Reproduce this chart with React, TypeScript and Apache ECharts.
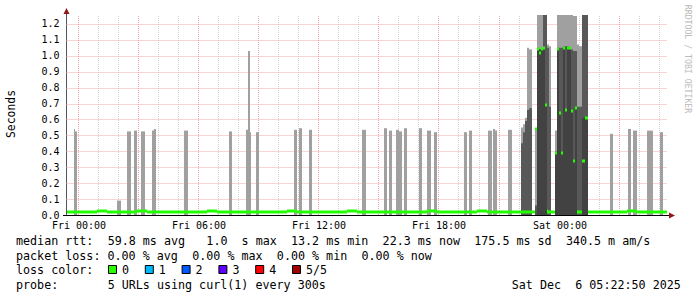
import React, { useEffect, useRef } from "react";
import * as echarts from "echarts";

// ---------- axis ranges (hours relative to Fri 00:00, seconds) ----------
const X_MIN = -0.583;
const X_MAX = 29.417;
const Y_MAX = 1.256;

// ---------- tick / grid values ----------
const xLabelHours = [0, 6, 12, 18, 24];
const xLabelTexts = ["Fri 00:00", "Fri 06:00", "Fri 12:00", "Fri 18:00", "Sat 00:00"];
const majorGridHours = [0, 3, 6, 9, 12, 15, 18, 21, 24, 27];
const minorGridHours = [1, 2, 4, 5, 7, 8, 10, 11, 13, 14, 16, 17, 19, 20, 22, 23, 25, 26, 28, 29];
const yGridValues = [0.1, 0.2, 0.3, 0.4, 0.5, 0.6, 0.7, 0.8, 0.9, 1.0, 1.1, 1.2];

// ---------- isolated smoke spikes: [start h, end h, max rtt s] ----------
const spikes: number[][] = [
  [-0.23, -0.15, 0.54], [-0.15, -0.08, 0.525],
  [1.95, 2.15, 0.09],
  [2.45, 2.65, 0.525], [2.8, 2.95, 0.53], [3.15, 3.32, 0.525],
  [3.7, 3.8, 0.53], [3.8, 3.9, 0.54], [5.3, 5.47, 0.53],
  [7.55, 7.7, 0.525],
  [8.4, 8.47, 0.535], [8.47, 8.57, 1.03], [8.57, 8.65, 0.52],
  [8.9, 9.05, 0.52],
  [10.8, 10.95, 0.535], [11.03, 11.18, 0.545], [11.55, 11.7, 0.535],
  [14.2, 14.4, 0.535], [15.3, 15.45, 0.545], [15.55, 15.7, 0.53],
  [15.9, 16.05, 0.535], [16.05, 16.2, 0.525], [16.3, 16.45, 0.545],
  [17.05, 17.2, 0.545], [17.45, 17.65, 0.53], [17.8, 17.95, 0.52],
  [19.3, 19.45, 0.52], [19.55, 19.7, 0.53],
  [20.45, 20.65, 0.53], [20.7, 20.8, 0.54], [20.8, 20.9, 0.53],
  [21.45, 21.65, 0.535],
  [26.55, 26.7, 0.51], [27.45, 27.6, 0.54], [27.7, 27.9, 0.53],
  [28.4, 28.7, 0.53], [29.05, 29.2, 0.52],
];

// ---------- busy period: [start h, end h, outer max, inner max, core max, median (null = baseline)] ----------
const busySlots: (number | null)[][] = [
  [22.1, 22.2, 0.55, 0.45, 0, null],
  [22.2, 22.3, 0.57, 0.52, 0, null],
  [22.3, 22.4, 0.61, 0.59, 0, null],
  [22.4, 22.5, 1.05, 0.66, 0, null],
  [22.5, 22.65, 1.04, 0.67, 0, null],
  [22.83, 22.9, 0.54, 0.06, 0, 0.54],
  [22.9, 23.0, 1.26, 1.04, 1.04, 1.04],
  [23.0, 23.1, 1.26, 1.04, 1.04, 1.02],
  [23.1, 23.2, 1.26, 1.04, 1.04, 1.04],
  [23.2, 23.3, 1.26, 1.26, 1.04, 1.05],
  [23.3, 23.4, 1.26, 1.26, 0.69, 0.69],
  [23.4, 23.5, 1.07, 1.05, 0, null],
  [23.5, 23.6, 1.06, 0.68, 0, null],
  [23.8, 23.9, 0.53, 0.4, 0.39, 0.39],
  [23.9, 24.0, 1.26, 1.05, 1.04, 1.04],
  [24.0, 24.1, 1.26, 1.05, 0.64, 0.64],
  [24.1, 24.2, 1.26, 1.05, 0.39, 0.39],
  [24.2, 24.3, 1.26, 1.06, 1.05, 1.05],
  [24.3, 24.4, 1.26, 1.06, 0.66, 0.66],
  [24.4, 24.5, 1.26, 1.06, 1.05, 1.05],
  [24.5, 24.6, 1.26, 1.05, 1.05, 1.05],
  [24.6, 24.7, 1.26, 1.04, 0.65, 0.65],
  [24.7, 24.8, 1.25, 1.03, 0.34, 0.34],
  [24.8, 24.9, 1.25, 1.03, 0.67, 0.67],
  [24.9, 25.0, 1.07, 0.68, 0, null],
  [25.0, 25.15, 1.06, 0.68, 0, null],
  [25.15, 25.3, 1.26, 1.26, 0.61, 0.34],
  [25.3, 25.45, 1.26, 1.26, 0.61, 0.61],
];

// ---------- baseline median rtt, every 30 min from the start ----------
const medianStartHour = -0.583;
const medianStepHours = 0.5;
const medianValues = [
  0.021, 0.019, 0.018, 0.022, 0.020, 0.017, 0.019, 0.022, 0.020, 0.018,
  0.021, 0.019, 0.017, 0.020, 0.022, 0.019, 0.018, 0.021, 0.020, 0.017,
  0.019, 0.021, 0.023, 0.020, 0.018, 0.019, 0.021, 0.020, 0.022, 0.019,
  0.018, 0.020, 0.021, 0.019, 0.017, 0.020, 0.022, 0.021, 0.019, 0.018,
  0.020, 0.023, 0.021, 0.019, 0.020, 0.018, 0.021, 0.022, 0.020, 0.019,
  0.017, 0.020, 0.021, 0.019, 0.018, 0.020, 0.022, 0.019, 0.021, 0.020,
];

// ---------- legend texts ----------
const legendRtt = "median rtt:  59.8 ms avg   1.0  s max  13.2 ms min  22.3 ms now  175.5 ms sd  340.5 m am/s";
const legendLoss = "packet loss: 0.00 % avg  0.00 % max  0.00 % min  0.00 % now";
const legendColorTitle = "loss color:";
const lossLabels = ["0", "1", "2", "3", "4", "5/5"];
const lossColors = ["#26ff00", "#00b8ff", "#0059ff", "#5e00ff", "#ff0000", "#a10000"];
const legendProbe = "probe:       5 URLs using curl(1) every 300s";
const legendDate = "Sat Dec  6 05:22:50 2025";

const MONO = '"DejaVu Sans Mono", monospace';
const CW = 7.05; // char advance of legend font
const LEGEND_FONT = `11.7px ${MONO}`;

function rowTexts(str: string, x0: number, y: number): any[] {
  const out: any[] = [];
  const re = /\S+(?: \S+)*/g;
  let m: RegExpExecArray | null;
  while ((m = re.exec(str))) {
    out.push({
      type: "text",
      x: x0 + m.index * CW,
      y,
      silent: true,
      style: {
        text: m[0], font: LEGEND_FONT, fill: "#000",
        align: "left", verticalAlign: "middle", textAlign: "left", textVerticalAlign: "middle",
      },
    });
  }
  return out;
}

export default function App() {
  const ref = useRef<HTMLDivElement>(null);

  useEffect(() => {
    document.body.style.margin = "0";
    if (!ref.current) return;
    const chart = echarts.init(ref.current, null, { renderer: "svg" });

    const rectSeries = (data: number[][], color: string, z: number) => ({
      type: "custom",
      data,
      clip: true,
      silent: true,
      z,
      encode: { x: [0, 1], y: [2, 3] },
      renderItem: (_p: any, api: any) => {
        const a = api.coord([api.value(0), api.value(2)]);
        const b = api.coord([api.value(1), api.value(3)]);
        const x0 = Math.round(a[0]);
        const x1 = Math.round(b[0]);
        return {
          type: "rect",
          shape: { x: x0, y: b[1], width: Math.max(1, x1 - x0), height: a[1] - b[1] },
          style: { fill: color },
        };
      },
    });

    const lineSeries = (data: number[][], color: string, z: number) => ({
      type: "custom",
      data,
      clip: false,
      silent: true,
      z,
      encode: { x: [0, 1], y: [2, 3] },
      renderItem: (_p: any, api: any) => {
        const a = api.coord([api.value(0), api.value(2)]);
        const b = api.coord([api.value(1), api.value(3)]);
        const vertical = api.value(0) === api.value(1);
        const shape = vertical
          ? { x1: Math.round(a[0]) + 0.5, y1: a[1], x2: Math.round(a[0]) + 0.5, y2: b[1] }
          : { x1: a[0], y1: Math.round(a[1]) + 0.5, x2: b[0], y2: Math.round(a[1]) + 0.5 };
        return { type: "line", shape, style: { stroke: color, lineWidth: 1, lineDash: [1, 1] } };
      },
    });

    // smoke layers
    const lightData: number[][] = spikes.map((s) => [s[0], s[1], 0, Math.min(s[2], Y_MAX)]);
    busySlots.forEach((s) => lightData.push([s[0] as number, s[1] as number, 0, Math.min(s[2] as number, Y_MAX)]));
    const midData: number[][] = busySlots.filter((s) => (s[3] as number) > 0)
      .map((s) => [s[0] as number, s[1] as number, 0, Math.min(s[3] as number, Y_MAX)]);
    const coreData: number[][] = busySlots.filter((s) => (s[4] as number) > 0)
      .map((s) => [s[0] as number, s[1] as number, 0, Math.min(s[4] as number, Y_MAX)]);

    // median line
    const highIntervals = busySlots.filter((s) => s[5] != null).map((s) => [s[0] as number, s[1] as number]);
    const medianData: number[][] = [];
    medianValues.forEach((v, i) => {
      const a = medianStartHour + i * medianStepHours;
      let segs: number[][] = [[a, Math.min(a + medianStepHours, X_MAX)]];
      highIntervals.forEach(([hs, he]) => {
        segs = segs.flatMap(([s, e]) => {
          if (he <= s || hs >= e) return [[s, e]];
          const out: number[][] = [];
          if (hs > s) out.push([s, hs]);
          if (he < e) out.push([he, e]);
          return out;
        });
      });
      segs.forEach(([s, e]) => medianData.push([s, e, v, v]));
    });
    busySlots.forEach((s) => {
      if (s[5] != null) medianData.push([s[0] as number, s[1] as number, s[5] as number, s[5] as number]);
    });

    const vMajor = majorGridHours.map((h) => [h, h, 0, Y_MAX]);
    const vMinor = minorGridHours.map((h) => [h, h, 0, Y_MAX]);
    const hGrid = yGridValues.map((v) => [X_MIN, X_MAX, v, v]);

    const graphic: any[] = [
      // y axis line + arrow
      { type: "line", silent: true, shape: { x1: 66.5, y1: 215, x2: 66.5, y2: 13 }, style: { stroke: "#555", lineWidth: 1 } },
      { type: "polygon", silent: true, shape: { points: [[63.5, 14], [69.5, 14], [66.5, 8]] }, style: { fill: "#901818" } },
      // x axis line + arrow
      { type: "line", silent: true, shape: { x1: 63, y1: 215.5, x2: 670, y2: 215.5 }, style: { stroke: "#000", lineWidth: 1 } },
      { type: "polygon", silent: true, shape: { points: [[669, 212.5], [669, 218.5], [675, 215.5]] }, style: { fill: "#901818" } },
      // y title
      {
        type: "text", x: 10.5, y: 114, rotation: Math.PI / 2, silent: true,
        style: { text: "Seconds", font: `11.4px ${MONO}`, fill: "#000", align: "center", verticalAlign: "middle", textAlign: "center", textVerticalAlign: "middle" },
      },
      // watermark
      {
        type: "text", x: 687.5, y: 59, rotation: -Math.PI / 2, silent: true,
        style: { text: "RRDTOOL / TOBI OETIKER", font: `8.2px ${MONO}`, fill: "#bbbbbb", align: "center", verticalAlign: "middle", textAlign: "center", textVerticalAlign: "middle" },
      },
      ...rowTexts(legendRtt, 16, 241),
      ...rowTexts(legendLoss, 16, 255.5),
      ...rowTexts(legendColorTitle, 16, 270),
      ...rowTexts(legendProbe, 16, 284.5),
      ...rowTexts(legendDate, 681 - legendDate.length * CW, 284.5),
    ];
    lossLabels.forEach((lab, i) => {
      const x = 108.5 + i * 36.8;
      graphic.push({
        type: "rect", silent: true,
        shape: { x, y: 265.5, width: 8, height: 8 },
        style: { fill: lossColors[i], stroke: "#000", lineWidth: 1 },
      });
      graphic.push({
        type: "text", x: x + 13.5, y: 270, silent: true,
        style: { text: lab, font: LEGEND_FONT, fill: "#000", align: "left", verticalAlign: "middle", textAlign: "left", textVerticalAlign: "middle" },
      });
    });

    chart.setOption({
      animation: false,
      backgroundColor: "#ffffff",
      grid: { left: 66.5, top: 15, width: 600.5, height: 200, containLabel: false },
      xAxis: {
        type: "value", min: X_MIN, max: X_MAX,
        axisLine: { show: false }, axisTick: { show: false }, axisLabel: { show: false }, splitLine: { show: false },
      },
      yAxis: {
        type: "value", min: 0, max: Y_MAX, interval: 0.1,
        axisLine: { show: false }, axisTick: { show: false }, splitLine: { show: false },
        axisLabel: {
          margin: 7, color: "#000", fontFamily: MONO, fontSize: 10,
          showMaxLabel: false,
          formatter: (v: number) => (v > 1.21 ? "" : v.toFixed(1)),
        },
      },
      series: [
        lineSeries(hGrid, "#f2a8a8", 1),
        lineSeries(vMinor, "#d2d2d2", 1),
        lineSeries(vMajor, "#f2a8a8", 1),
        rectSeries(lightData, "#a0a0a0", 2),
        rectSeries(midData, "#585858", 3),
        rectSeries(coreData, "#424242", 4),
        {
          type: "custom",
          data: medianData,
          clip: true,
          silent: true,
          z: 5,
          encode: { x: [0, 1], y: [2, 3] },
          renderItem: (_p: any, api: any) => {
            const a = api.coord([api.value(0), api.value(2)]);
            const b = api.coord([api.value(1), api.value(2)]);
            const x0 = Math.round(a[0]);
            const x1 = Math.round(b[0]);
            return {
              type: "rect",
              shape: { x: x0, y: Math.round(a[1]) - 1.5, width: Math.max(1, x1 - x0), height: 3 },
              style: { fill: "#22ff00" },
            };
          },
        },
        {
          type: "custom",
          data: xLabelHours.map((h) => [h, h, 0, 0]),
          clip: false,
          silent: true,
          z: 6,
          encode: { x: [0, 1], y: [2, 3] },
          renderItem: (p: any, api: any) => {
            const a = api.coord([api.value(0), 0]);
            return {
              type: "text",
              x: Math.round(a[0]) + 1,
              y: a[1] + 10.5,
              style: {
                text: xLabelTexts[p.dataIndex], font: `10px ${MONO}`, fill: "#000",
                align: "center", verticalAlign: "middle", textAlign: "center", textVerticalAlign: "middle",
              },
            };
          },
        },
      ],
      graphic,
    });

    return () => chart.dispose();
  }, []);

  return <div ref={ref} style={{ width: 697, height: 297 }} />;
}
